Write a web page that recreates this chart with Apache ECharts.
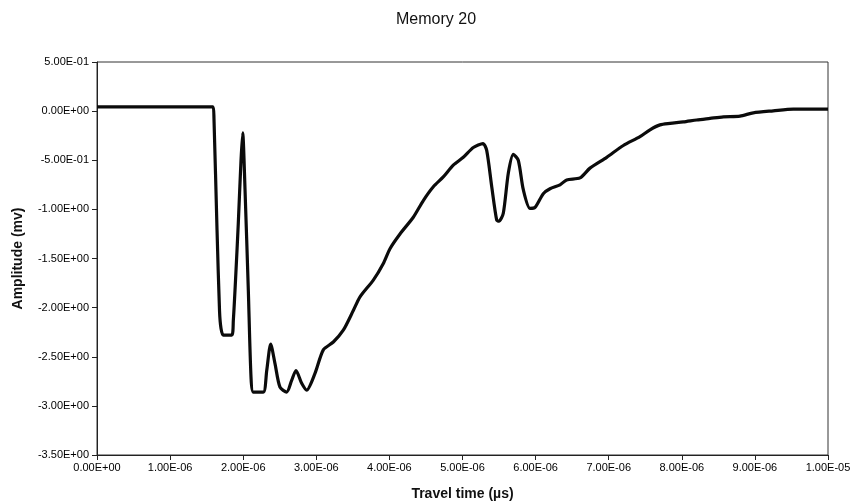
<!DOCTYPE html>
<html>
<head>
<meta charset="utf-8">
<title>Memory 20</title>
<script src="https://cdn.jsdelivr.net/npm/echarts@6/dist/echarts.min.js"></script>
<style>
  html, body { margin: 0; padding: 0; background: #fff; }
  #chart { width: 855px; height: 503px; }
</style>
</head>
<body>
<div id="chart"></div>
<script>
// Travel time in microseconds
const travelTime = [
  0.000, 1.587, 1.600, 1.642, 1.676, 1.696, 1.728, 1.843, 1.865, 1.895,
  1.933, 1.970, 1.993, 2.025, 2.070, 2.107, 2.138, 2.275, 2.322, 2.376,
  2.435, 2.503, 2.595, 2.663, 2.722, 2.800, 2.869, 2.982, 3.096, 3.233,
  3.369, 3.506, 3.598, 3.780, 3.917, 4.008, 4.145, 4.327, 4.464, 4.601,
  4.737, 4.874, 5.011, 5.148, 5.280, 5.331, 5.400, 5.468, 5.499, 5.558,
  5.627, 5.695, 5.763, 5.832, 5.923, 5.992, 6.105, 6.197, 6.334, 6.425,
  6.607, 6.744, 6.973, 7.200, 7.428, 7.565, 7.702, 7.839, 8.021, 8.204,
  8.386, 8.568, 8.796, 8.978, 9.251, 9.525, 10.000
];
// Amplitude in mV
const amplitude = [
  0.044, 0.044, -0.07, -1.21, -2.03, -2.21, -2.28, -2.28, -2.13, -1.72,
  -1.14, -0.50, -0.22, -0.80, -1.82, -2.71, -2.86, -2.86, -2.64, -2.37,
  -2.57, -2.81, -2.86, -2.74, -2.64, -2.77, -2.84, -2.67, -2.43, -2.35,
  -2.23, -2.03, -1.89, -1.72, -1.55, -1.40, -1.25, -1.08, -0.91, -0.77,
  -0.67, -0.55, -0.47, -0.37, -0.33, -0.40, -0.77, -1.11, -1.12, -1.04,
  -0.63, -0.44, -0.50, -0.80, -0.99, -0.98, -0.84, -0.79, -0.75, -0.70,
  -0.68, -0.58, -0.47, -0.35, -0.26, -0.19, -0.14, -0.125, -0.11, -0.09,
  -0.074, -0.058, -0.051, -0.017, 0.003, 0.02, 0.02
];
const xTicks = { min: 0, max: 10, step: 1 };
const yTicks = { min: -3.5, max: 0.5, step: 0.5 };

// Scientific notation with a two-digit exponent, e.g. 1.00E-06
function sci(v) {
  if (Math.abs(v) < 1e-30) return '0.00E+00';
  const parts = v.toExponential(2).split('e');
  const e = parseInt(parts[1], 10);
  return parts[0] + 'E' + (e < 0 ? '-' : '+') + String(Math.abs(e)).padStart(2, '0');
}

const series = travelTime.map((t, i) => [t, amplitude[i]]);
const font = 'Liberation Sans, Arial, sans-serif';

const chart = echarts.init(document.getElementById('chart'), null, { renderer: 'canvas' });
chart.setOption({
  animation: false,
  backgroundColor: '#ffffff',
  title: {
    text: 'Memory 20',
    left: 391,
    top: 7,
    textStyle: { fontFamily: font, fontSize: 16, fontWeight: 'normal', color: '#111' }
  },
  grid: {
    left: 97, right: 27, top: 62, bottom: 48,
    outerBoundsMode: 'none',
    containLabel: false,
    show: true, borderColor: '#333', borderWidth: 1, backgroundColor: '#fff'
  },
  xAxis: {
    type: 'value',
    min: xTicks.min, max: xTicks.max, interval: xTicks.step,
    name: 'Travel time (\u00b5s)',
    nameLocation: 'middle',
    nameGap: 32,
    nameTextStyle: { fontFamily: font, fontSize: 14, fontWeight: 'bold', color: '#111' },
    axisLine: { show: true, onZero: false, lineStyle: { color: '#222', width: 1 } },
    axisTick: { show: true, inside: false, length: 5, lineStyle: { color: '#222' } },
    axisLabel: {
      margin: 7, fontFamily: font, fontSize: 11, color: '#000',
      formatter: v => sci(v * 1e-6)
    },
    splitLine: { show: false }
  },
  yAxis: {
    type: 'value',
    min: yTicks.min, max: yTicks.max, interval: yTicks.step,
    name: 'Amplitude (mv)',
    nameLocation: 'middle',
    nameGap: 72,
    nameTextStyle: { fontFamily: font, fontSize: 14, fontWeight: 'bold', color: '#111' },
    axisLine: { show: true, onZero: false, lineStyle: { color: '#222', width: 1 } },
    axisTick: { show: true, inside: false, length: 5, lineStyle: { color: '#222' } },
    axisLabel: {
      margin: 8, fontFamily: font, fontSize: 11, color: '#000',
      formatter: v => sci(v)
    },
    splitLine: { show: false }
  },
  series: [{
    type: 'line',
    data: series,
    smooth: 0.25,
    showSymbol: false,
    symbol: 'none',
    lineStyle: { color: '#0b0b0b', width: 3.2 }
  }]
});
</script>
</body>
</html>
